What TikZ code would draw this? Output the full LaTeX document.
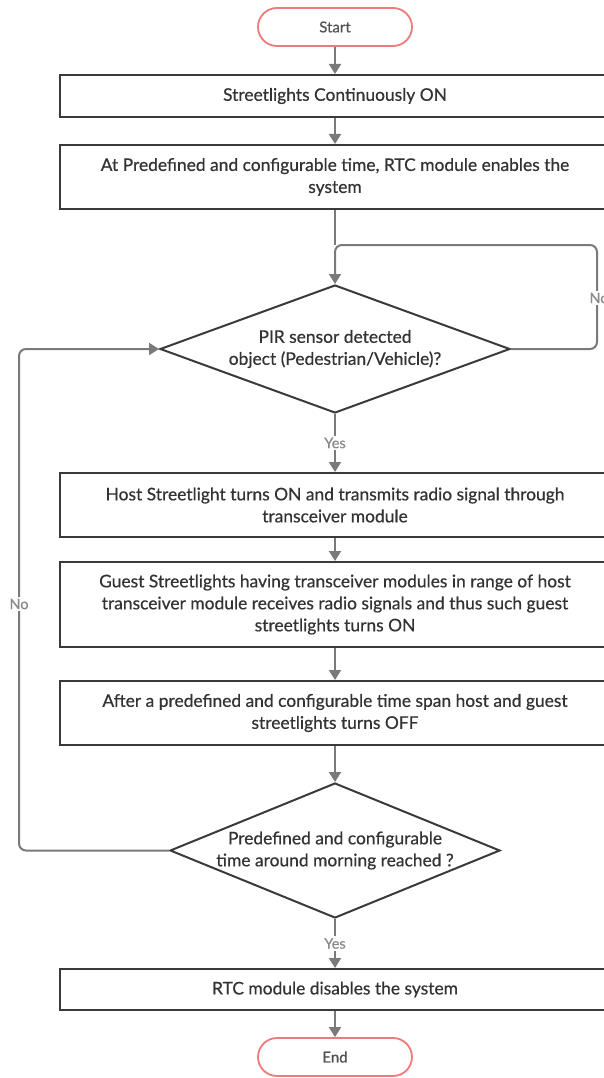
\documentclass[tikz,border=0pt]{standalone}
\usepackage{fontspec}
\setmainfont{Lato}[FakeBold=0.6]
\usetikzlibrary{shapes.geometric,arrows.meta}
\definecolor{txt}{HTML}{333333}
\definecolor{edge}{HTML}{3A3A3A}
\definecolor{conn}{HTML}{7A7A7A}
\definecolor{lblc}{HTML}{8A8A8A}
\definecolor{term}{HTML}{F07A7A}
\begin{document}
\begin{tikzpicture}[x=1pt,y=-1pt,
  every node/.style={font=\fontsize{17.4}{22}\selectfont, text=txt},
  procbox/.style={draw=edge, line width=2pt, rectangle, minimum width=550pt, align=center, inner sep=0pt},
  termbox/.style={draw=term, line width=1.8pt, rectangle, rounded corners=19pt, minimum width=154pt, minimum height=38pt, inner sep=0pt, text=txt!85, font=\fontsize{15}{18}\selectfont},
  decision/.style={draw=edge, line width=2pt, diamond, inner sep=0pt},
  dtext/.style={align=center, inner sep=0pt},
  conn/.style={draw=conn, line width=2pt, -{Triangle[width=12pt,length=10pt]}},
  connplain/.style={draw=conn, line width=2pt},
  lbl/.style={fill=white, inner sep=2pt, text=lblc, font=\fontsize{14.5}{17}\selectfont}
]
\useasboundingbox (0,0) rectangle (603,1078);

\node[termbox] (start) at (335,27) {Start};
\node[procbox, minimum height=42pt] (b1) at (335,96) {Streetlights Continuously ON};
\node[procbox, minimum height=64pt] (b2) at (335,177) {At Predefined and configurable time, RTC module enables the\\system};
\node[decision, minimum width=350pt, minimum height=128pt] (d1) at (335,349) {};
\node[dtext] (t1) at (d1.center) {PIR sensor detected\\object (Pedestrian/Vehicle)?};
\node[procbox, minimum height=64pt] (b3) at (335,505) {Host Streetlight turns ON and transmits radio signal through\\transceiver module};
\node[procbox, minimum height=85pt] (b4) at (335,604.5) {Guest Streetlights having transceiver modules in range of host\\transceiver module receives radio signals and thus such guest\\streetlights turns ON};
\node[procbox, minimum height=64pt] (b5) at (335,713) {After a predefined and configurable time span host and guest\\streetlights turns OFF};
\node[decision, minimum width=330pt, minimum height=135pt] (d2) at (335,850.5) {};
\node[dtext] (t2) at (d2.center) {Predefined and configurable\\time around morning reached ?};
\node[procbox, minimum height=41pt] (b6) at (335,989.5) {RTC module disables the system};
\node[termbox] (end) at (335,1057) {End};

\coordinate (r1) at (597,245);
\coordinate (m1) at (335,245);
\coordinate (l1) at (19,349);

\draw[conn] (start.south) -- (b1.north);
\draw[conn] (b1.south) -- (b2.north);
\draw[connplain] (b2.south) -- (m1);
\draw[conn, rounded corners=7pt] (d1.east) -| (r1) -- (m1) -- (d1.north);
\node[lbl] (no1) at (599,298) {No};
\draw[conn] (d1.south) -- node[lbl] (yes1) {Yes} (b3.north);
\draw[conn] (b3.south) -- (b4.north);
\draw[conn] (b4.south) -- (b5.north);
\draw[conn] (b5.south) -- (d2.north);
\draw[conn, rounded corners=7pt] (d2.west) -| (l1) -- (d1.west);
\node[lbl] (no2) at (19,604) {No};
\draw[conn] (d2.south) -- node[lbl] (yes2) {Yes} (b6.north);
\draw[conn] (b6.south) -- (end.north);
\end{tikzpicture}
\end{document}
